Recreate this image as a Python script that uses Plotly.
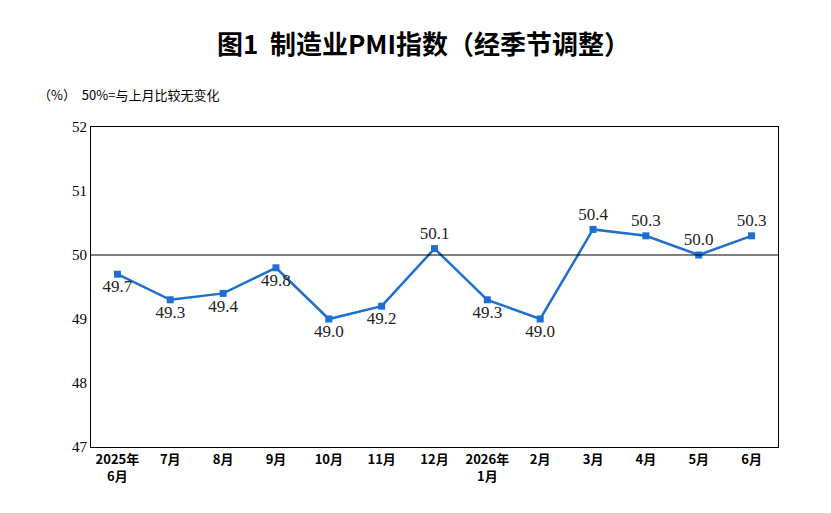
import plotly.graph_objects as go

months = ["2025年<br>6月", "7月", "8月", "9月", "10月", "11月", "12月", "2026年<br>1月",
          "2月", "3月", "4月", "5月", "6月"]
pmi = [49.7, 49.3, 49.4, 49.8, 49.0, 49.2, 50.1, 49.3, 49.0, 50.4, 50.3, 50.0, 50.3]
label_pos = ["bottom center"] * 6 + ["top center"] + ["bottom center"] * 2 + ["top center"] * 4

fig = go.Figure()
fig.add_trace(go.Scatter(
    x=list(range(len(months))), y=pmi, mode="lines+markers+text",
    line=dict(color="#1f6fd0", width=2.5),
    marker=dict(symbol="square", size=7, color="#1f6fd0"),
    text=[f"{v:.1f}" for v in pmi], textposition=label_pos,
    textfont=dict(family="Liberation Serif", size=17, color="#222"),
    cliponaxis=False, showlegend=False))

fig.add_shape(type="line", xref="paper", x0=0, x1=1, y0=50, y1=50,
              line=dict(color="black", width=1.2))

fig.update_layout(
    width=831, height=513, plot_bgcolor="white", paper_bgcolor="white",
    margin=dict(l=83, r=61, t=119, b=74, autoexpand=False),
    title=dict(text="<b>图1  制造业PMI指数（经季节调整）</b>", x=0.5, y=0.945,
               xanchor="center", font=dict(family="Noto Sans CJK SC", size=26, color="black")),
    xaxis=dict(range=[-0.5, 12.5], tickmode="array", tickvals=list(range(len(months))),
               ticktext=[f"<b>{m}</b>" for m in months], showgrid=False, automargin=False,
               showline=True, linecolor="black", mirror=True, ticks="",
               tickfont=dict(family="Noto Sans CJK SC", size=13, color="black")),
    yaxis=dict(range=[47, 52], dtick=1, showgrid=False, showline=True, linecolor="black",
               mirror=True, ticks="", zeroline=False, automargin=False,
               tickfont=dict(family="Liberation Serif", size=15, color="black")),
    annotations=[dict(text="（%）  50%=与上月比较无变化", xref="paper", yref="paper",
                      x=-0.08, y=1.065, xanchor="left", yanchor="bottom", showarrow=False,
                      font=dict(family="Noto Sans CJK SC", size=13, color="black"))],
)

fig.write_html("out.html")
